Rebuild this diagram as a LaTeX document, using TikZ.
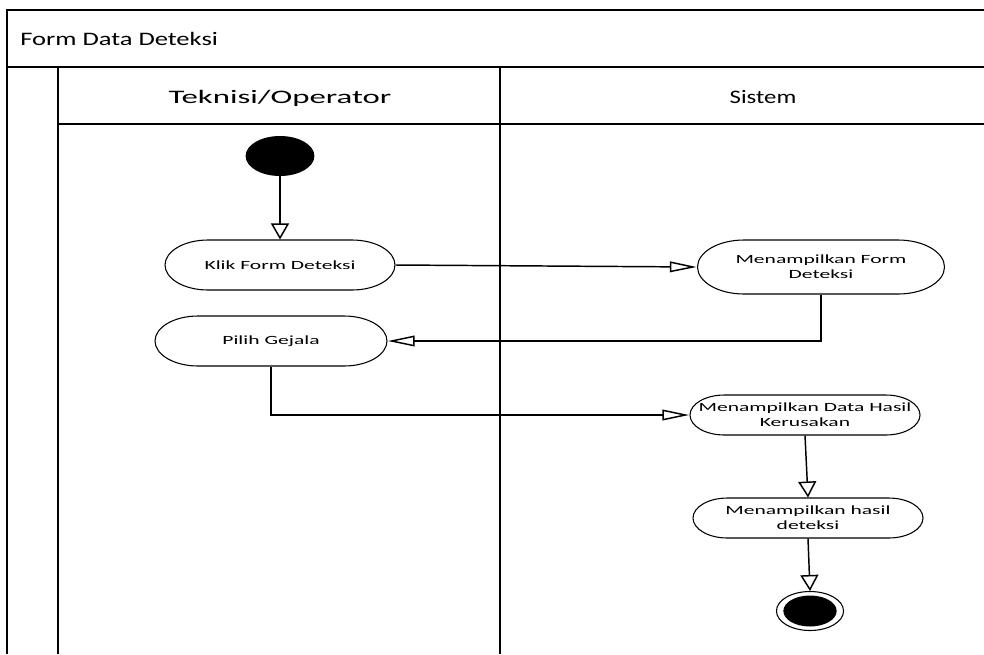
\documentclass[tikz,border=0pt]{standalone}
\usepackage{fontspec}
\setmainfont{Carlito}
\usetikzlibrary{arrows.meta,shapes.misc}

% horizontal stretch applied to shapes and text
\newcommand\stretchx{1.72}

\tikzset{
  frame/.style={line width=1.2pt},
  actbox/.style={rounded rectangle, draw, line width=0.8pt, inner sep=0pt, fill=white},
  acttext/.style={font=\fontsize{9.4}{11.3}\selectfont, align=center, inner sep=0pt},
  heading/.style={font=\fontsize{14.3}{17}\selectfont, inner sep=0pt},
  startdot/.style={circle, fill=black, minimum size=30pt, inner sep=0pt},
  endring/.style={circle, draw, line width=0.8pt, minimum size=29.25pt, inner sep=0pt,
                  label={[enddot]center:}},
  enddot/.style={circle, fill=black, minimum size=23.25pt, inner sep=0pt},
  flow/.style={line width=1.1pt},
  harrow/.style={flow, -{Triangle[open, length=20pt, width=8pt]}},
  varrow/.style={flow, -{Triangle[open, length=12pt, width=13.5pt]}},
}

% place content at a point, stretched horizontally (optional stretch factor)
\newcommand\wideat[3][\stretchx]{%
  \begin{scope}[shift={#2}, xscale=#1, transform shape]#3\end{scope}}

% activity: name, x, y, width, height, text
\newcommand\activity[6]{%
  \begin{scope}[shift={(#2,#3)}, xscale=\stretchx, transform shape]
    \node[actbox, minimum width=#4, minimum height=#5,
          label={[acttext]center:{#6}}] (#1) at (0,0) {};
  \end{scope}}

\begin{document}
\begin{tikzpicture}[x=0.75pt, y=-0.75pt]
\useasboundingbox (0,0) rectangle (984,654);

% pool and lanes
\draw[frame] (7,654) -- (7,10) -- (984,10);
\draw[frame] (7,67) -- (984,67);
\draw[frame] (58,67) -- (58,654);
\draw[frame] (58,124) -- (984,124);
\draw[frame] (500,67) -- (500,654);

\wideat[1.39]{(20,45)}{\node[heading, anchor=base west] (title) at (0,0) {Form Data Deteksi};}
\wideat{(280,103)}{\node[heading, anchor=base] (laneA) at (0,0) {Teknisi/Operator};}
\wideat[1.3]{(763,103)}{\node[heading, anchor=base] (laneB) at (0,0) {Sistem};}

% initial and final states
\wideat{(280,156)}{\node[startdot] (start) at (0,0) {};}
\wideat{(810,611)}{\node[endring] (end) at (0,0) {};}

% activities
\activity{klik}{280}{265}{100.29pt}{37.5pt}{Klik Form Deteksi}
\activity{pilih}{271}{341}{101.16pt}{37.5pt}{Pilih Gejala}
\activity{mfd}{821}{267}{107.70pt}{40.5pt}{Menampilkan Form\\Deteksi}
\activity{mdhk}{805}{415}{100.29pt}{30pt}{Menampilkan Data Hasil\\Kerusakan}
\activity{mhd}{808}{518}{100.29pt}{30pt}{Menampilkan hasil\\deteksi}

% control flow
\draw[varrow] (start.south) -- (klik.north);
\draw[harrow] (klik.east) -- (mfd.west);
\draw[harrow] (mfd.south) |- (pilih.east);
\draw[harrow] (pilih.south) |- (mdhk.west);
\draw[varrow] (mdhk.south) -- (mhd.north);
\draw[varrow] (mhd.south) -- (end.north);
\end{tikzpicture}
\end{document}
